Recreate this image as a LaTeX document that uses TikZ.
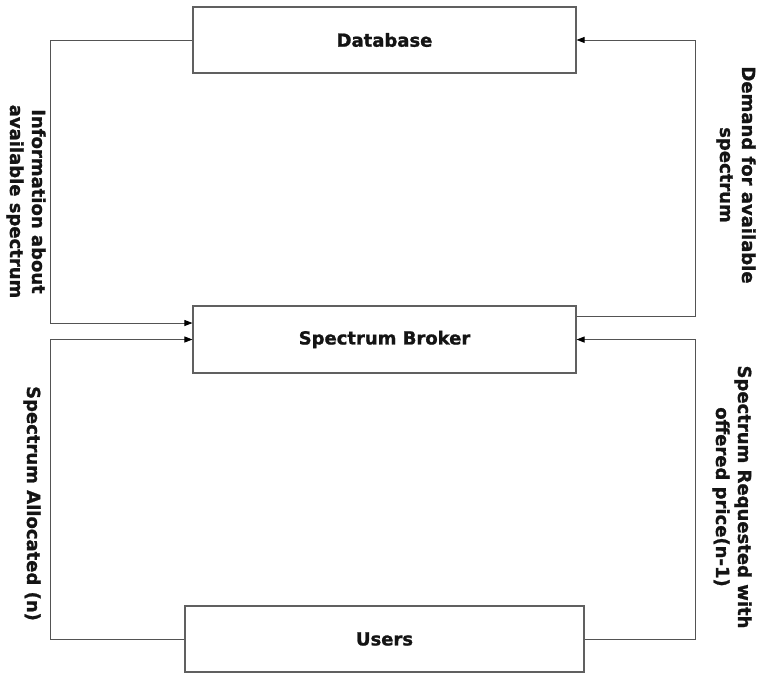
\documentclass[tikz,border=0pt]{standalone}
\usepackage{fontspec}
\setmainfont{DejaVu Sans}[BoldFeatures={FakeBold=1.2}]
\usetikzlibrary{arrows.meta}
\begin{document}
\begin{tikzpicture}[x=1pt,y=-1pt,
  box/.style={draw=gray!75!black,line width=1.1pt,rectangle,inner sep=0pt,
    font=\fontsize{18}{22}\selectfont\bfseries,text=black!92},
  conn/.style={draw=gray!65!black,line width=0.8pt},
  arr/.style={conn,-{Triangle[length=8pt,width=6pt,color=black]}},
  lbl/.style={rotate=-90,align=center,inner sep=0pt,
    font=\fontsize{18}{22}\selectfont\bfseries,text=black!92}]
\useasboundingbox (0,0) rectangle (759,673);
\node[box,minimum width=383pt,minimum height=66pt] (db) at (384.5,40) {Database};
\node[box,minimum width=383pt,minimum height=67pt] (broker) at (384.5,339.5) {Spectrum Broker};
\node[box,minimum width=399pt,minimum height=66pt] (users) at (384.5,639) {Users};
\coordinate (l1) at (50,40);
\coordinate (r1) at (695,316);
\coordinate (l2) at (50,639);
\coordinate (r2) at (695,639);
\draw[arr] (db.west) -- (l1) |- ([yshift=16.5pt]broker.west);
\draw[arr] ([yshift=23.5pt]broker.east) -- (r1) |- (db.east);
\draw[arr] (users.west) -- (l2) |- (broker.west);
\draw[arr] (users.east) -- (r2) |- (broker.east);
\node[lbl] (info) at (26,201.5) {Information about\\available spectrum};
\node[lbl] (demand) at (736,175) {Demand for available\\spectrum};
\node[lbl] (alloc) at (32,503.5) {Spectrum Allocated (n)};
\node[lbl] (req) at (732,497) {Spectrum Requested with\\offered price(n-1)};
\end{tikzpicture}
\end{document}
